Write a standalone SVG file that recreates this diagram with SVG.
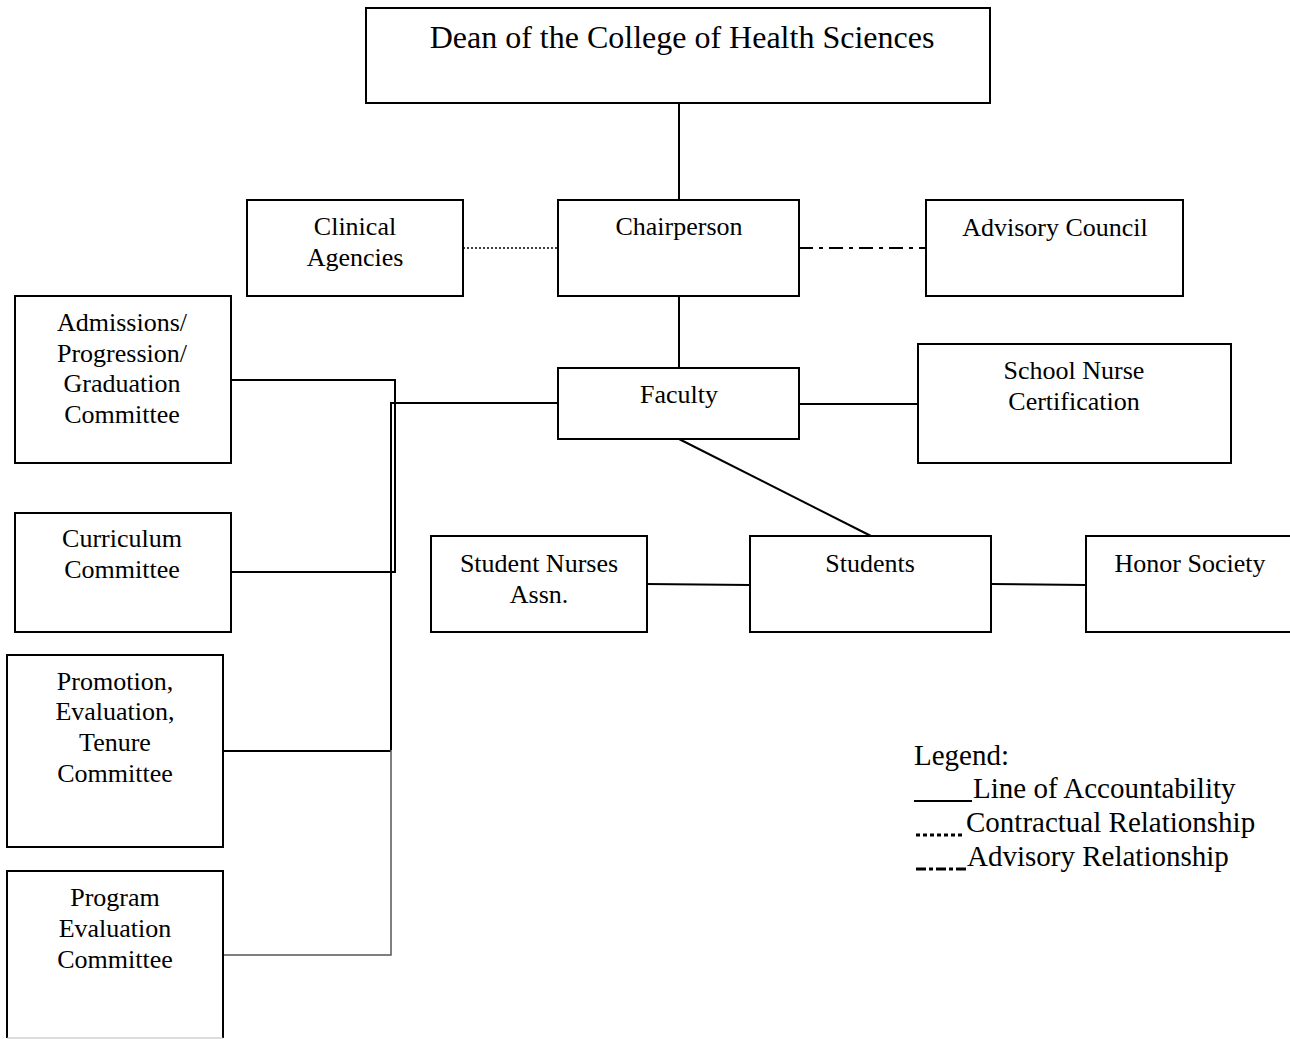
<svg xmlns="http://www.w3.org/2000/svg" width="1290" height="1039" viewBox="0 0 1290 1039">
<style>
.box{fill:#fff;stroke:#000;stroke-width:2}
text{font-family:"Liberation Serif","Times New Roman",serif;font-size:26px;fill:#000;text-anchor:middle}
.dean{font-size:32px}
.leg{font-size:29px;text-anchor:start}
.ln{stroke:#000;stroke-width:2;fill:none}
.thin{stroke:#555;stroke-width:1.5;fill:none}
.dot{stroke:#000;stroke-width:1.5;stroke-dasharray:2 2;fill:none}
.dash{stroke:#000;stroke-width:2;stroke-dasharray:14 6 4 6;fill:none}
.ldot{stroke:#000;stroke-width:3;stroke-dasharray:4 3;fill:none}
.ldash{stroke:#000;stroke-width:3;stroke-dasharray:10 3 4 3;fill:none}
</style>
<rect width="1290" height="1039" fill="#fff"/>
<g id="connectors">
<line class="ln" x1="679" y1="103" x2="679" y2="200"/>
<line class="dot" x1="463" y1="248" x2="558" y2="248"/>
<line class="dash" x1="799" y1="248" x2="926" y2="248"/>
<line class="ln" x1="679" y1="296" x2="679" y2="368"/>
<line class="ln" x1="799" y1="404" x2="918" y2="404"/>
<line class="ln" x1="679" y1="439" x2="871" y2="536"/>
<line class="ln" x1="647" y1="584" x2="750" y2="585"/>
<line class="ln" x1="991" y1="584" x2="1086" y2="585"/>
<polyline class="ln" points="231,380 395,380 395,572 231,572"/>
<polyline class="ln" points="558,403 391,403 391,750"/>
<line class="ln" x1="223" y1="751" x2="391" y2="751"/>
<polyline class="thin" points="391,750 391,955 223,955"/>
</g>
<g id="dean"><rect class="box" x="366" y="8" width="624" height="95"/><text class="dean" x="682" y="48">Dean of the College of Health Sciences</text></g>
<g id="chair"><rect class="box" x="558" y="200" width="241" height="96"/><text x="679" y="235">Chairperson</text></g>
<g id="clinical"><rect class="box" x="247" y="200" width="216" height="96"/><text x="355" y="235">Clinical</text><text x="355" y="266">Agencies</text></g>
<g id="advisory"><rect class="box" x="926" y="200" width="257" height="96"/><text x="1055" y="236">Advisory Council</text></g>
<g id="faculty"><rect class="box" x="558" y="368" width="241" height="71"/><text x="679" y="403">Faculty</text></g>
<g id="schoolnurse"><rect class="box" x="918" y="344" width="313" height="119"/><text x="1074" y="379">School Nurse</text><text x="1074" y="410">Certification</text></g>
<g id="students"><rect class="box" x="750" y="536" width="241" height="96"/><text x="870" y="572">Students</text></g>
<g id="sna"><rect class="box" x="431" y="536" width="216" height="96"/><text x="539" y="572">Student Nurses</text><text x="539" y="603">Assn.</text></g>
<g id="honor"><rect class="box" x="1086" y="536" width="214" height="96"/><text x="1190" y="572">Honor Society</text></g>
<g id="admissions"><rect class="box" x="15" y="296" width="216" height="167"/><text x="122" y="331">Admissions/</text><text x="122" y="362">Progression/</text><text x="122" y="392">Graduation</text><text x="122" y="423">Committee</text></g>
<g id="curriculum"><rect class="box" x="15" y="513" width="216" height="119"/><text x="122" y="547">Curriculum</text><text x="122" y="578">Committee</text></g>
<g id="promotion"><rect class="box" x="7" y="655" width="216" height="192"/><text x="115" y="690">Promotion,</text><text x="115" y="720">Evaluation,</text><text x="115" y="751">Tenure</text><text x="115" y="782">Committee</text></g>
<g id="program"><rect x="7" y="871" width="216" height="167" fill="#fff" stroke="none"/><polyline class="ln" points="7,1038 7,871 223,871 223,1038"/><line x1="7" y1="1038" x2="223" y2="1038" stroke="#bbb" stroke-width="1"/><text x="115" y="906">Program</text><text x="115" y="937">Evaluation</text><text x="115" y="968">Committee</text></g>
<g id="legend">
<text class="leg" x="914" y="765">Legend:</text>
<line class="ln" x1="914" y1="801" x2="972" y2="801"/>
<text class="leg" x="973" y="798">Line of Accountability</text>
<line class="ldot" x1="916" y1="835" x2="964" y2="835"/>
<text class="leg" x="966" y="832">Contractual Relationship</text>
<line class="ldash" x1="916" y1="869" x2="966" y2="869"/>
<text class="leg" x="967" y="866">Advisory Relationship</text>
</g>
</svg>
